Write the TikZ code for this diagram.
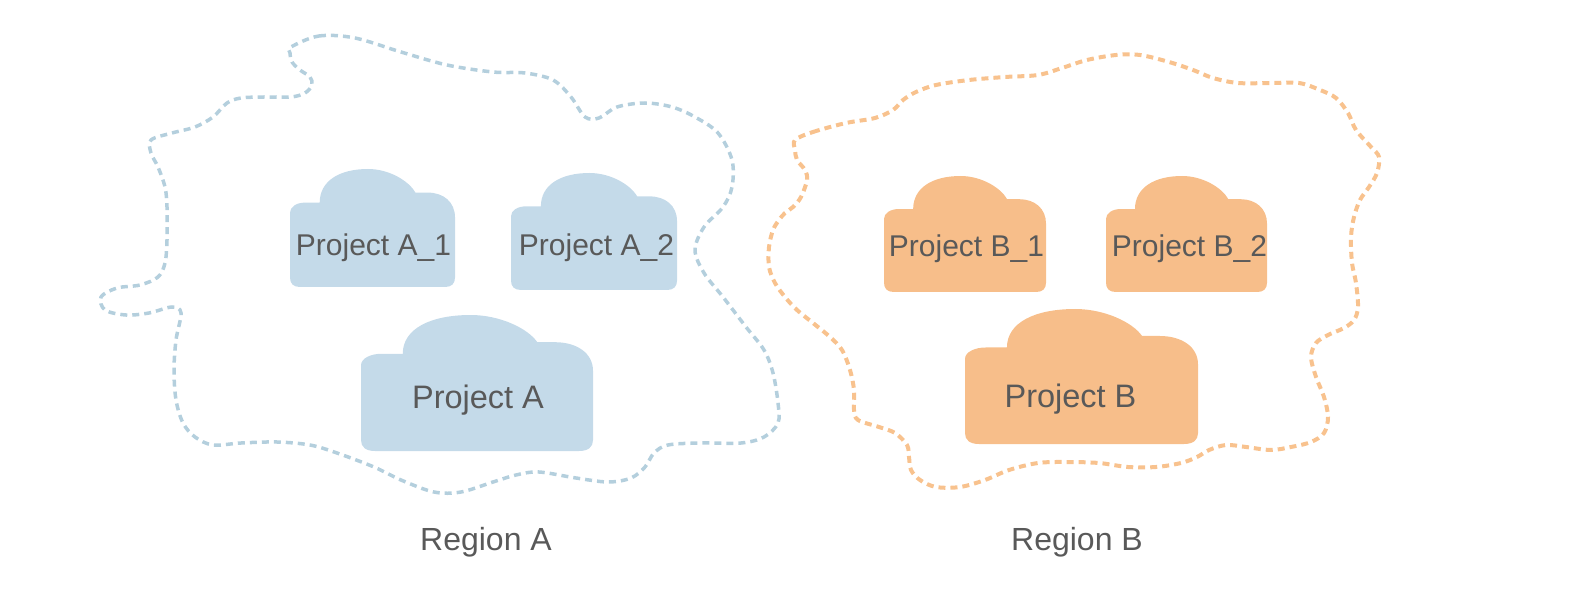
\documentclass[tikz,border=0pt]{standalone}
\usepackage{fontspec}
\setmainfont{Liberation Sans}
\definecolor{txtgray}{RGB}{89,89,89}
\definecolor{cloudblue}{RGB}{196,218,233}
\definecolor{lineblue}{RGB}{180,207,221}
\definecolor{cloudorange}{RGB}{247,190,138}
\definecolor{lineorange}{RGB}{248,194,142}
\newcommand{\drawcloud}[5]{%
  \fill[#5, shift={(#1,#2)}, xscale=#3, yscale=#4]
    (0,0.92) -- (0,0.37) .. controls (0,0.32) and (0.04,0.285) .. (0.09,0.285)
    -- (0.18,0.285) .. controls (0.18,0.1) and (0.3,0) .. (0.473,0)
    .. controls (0.6,0) and (0.72,0.1) .. (0.76,0.2)
    -- (0.836,0.2) .. controls (0.93,0.2) and (1,0.28) .. (1,0.41)
    -- (1,0.92) .. controls (1,0.97) and (0.98,1) .. (0.94,1)
    -- (0.06,1) .. controls (0.02,1) and (0,0.97) .. (0,0.92) -- cycle;}
\tikzset{
  regionA/.style={draw=lineblue, line width=3.5pt, dash pattern=on 7pt off 5pt},
  regionB/.style={draw=lineorange, line width=4pt, dash pattern=on 7pt off 5pt},
  smalltxt/.style={text=txtgray, font=\fontsize{30}{36}\selectfont, anchor=base, inner sep=0pt},
  bigtxt/.style={text=txtgray, font=\fontsize{32.5}{39}\selectfont, anchor=base, inner sep=0pt},
  regtxt/.style={text=txtgray, font=\fontsize{32}{38}\selectfont, anchor=base, inner sep=0pt},
}
\begin{document}
\begin{tikzpicture}[x=1pt, y=-1pt]
\useasboundingbox (0,0) rectangle (1594,601);
% Region A outline
\draw[regionA] plot[smooth cycle, tension=0.55] coordinates {
(291,47) (319,36) (355,38) (401,52) (447,65) (493,72) (525,73) (553,80) (571,97) (585,117)
(599,118) (617,107) (645,103) (672,107) (695,117) (718,133) (732,160) (732,187) (723,207)
(704,227) (695,250) (704,273) (723,297) (746,327) (764,350) (773,373) (778,403) (778,423)
(764,437) (741,443) (700,443) (668,445) (654,453) (645,467) (631,478) (608,482) (576,478)
(539,472) (516,475) (493,482) (461,492) (434,492) (401,480) (374,467) (337,453) (310,445)
(277,442) (241,443) (213,445) (195,437) (183,423) (176,400) (174,370) (176,340) (181,313)
(172,307) (149,313) (126,315) (105,310) (101,297) (117,288) (140,285) (158,277) (165,263)
(167,240) (167,207) (165,187) (158,167) (151,153) (151,140) (172,133) (195,127) (213,117)
(227,103) (241,98) (264,97) (291,97) (305,93) (312,85) (310,77) (300,70) (292,62) (290,53)};
% Region B outline
\draw[regionB] plot[smooth cycle, tension=0.55] coordinates {
(795,140) (813,132) (846,123) (875,118) (893,110) (903,100) (916,92) (936,85) (969,80)
(1005,77) (1038,75) (1062,68) (1087,60) (1116,55) (1140,55) (1169,62) (1193,70) (1213,78)
(1238,83) (1271,83) (1299,83) (1320,90) (1336,98) (1348,113) (1356,130) (1371,147)
(1379,157) (1377,173) (1369,187) (1360,200) (1354,217) (1351,237) (1352,263) (1356,283)
(1358,307) (1354,320) (1344,328) (1328,335) (1316,343) (1311,357) (1316,377) (1324,397)
(1328,417) (1324,433) (1311,442) (1291,447) (1271,450) (1246,447) (1226,445) (1209,450)
(1197,457) (1181,463) (1156,467) (1128,467) (1099,463) (1067,462) (1038,463) (1009,470)
(985,480) (960,487) (936,487) (920,480) (911,470) (909,457) (907,445) (895,433) (879,427)
(858,420) (854,410) (854,390) (850,370) (842,350) (830,337) (813,323) (797,310) (785,297)
(775,283) (769,267) (769,247) (773,230) (779,220) (785,213) (793,207) (801,197) (807,180)
(805,170) (797,160) (795,150)};
% Clouds
\drawcloud{290}{169}{165}{118}{cloudblue}
\drawcloud{511}{173}{166}{117}{cloudblue}
\drawcloud{361}{315}{232}{136}{cloudblue}
\drawcloud{884}{176}{162}{116}{cloudorange}
\drawcloud{1106}{176}{161}{116}{cloudorange}
\drawcloud{965}{309}{233}{135}{cloudorange}
% Labels
\node[smalltxt] (a1) at (373.5,256) {Project A\_1};
\node[smalltxt] (a2) at (596.5,256) {Project A\_2};
\node[bigtxt] (pa) at (478,408) {Project A};
\node[smalltxt] (b1) at (966.5,257) {Project B\_1};
\node[smalltxt] (b2) at (1189.5,257) {Project B\_2};
\node[bigtxt] (pb) at (1070.5,407) {Project B};
\node[regtxt] (ra) at (486,550) {Region A};
\node[regtxt] (rb) at (1077,550) {Region B};
\end{tikzpicture}
\end{document}
